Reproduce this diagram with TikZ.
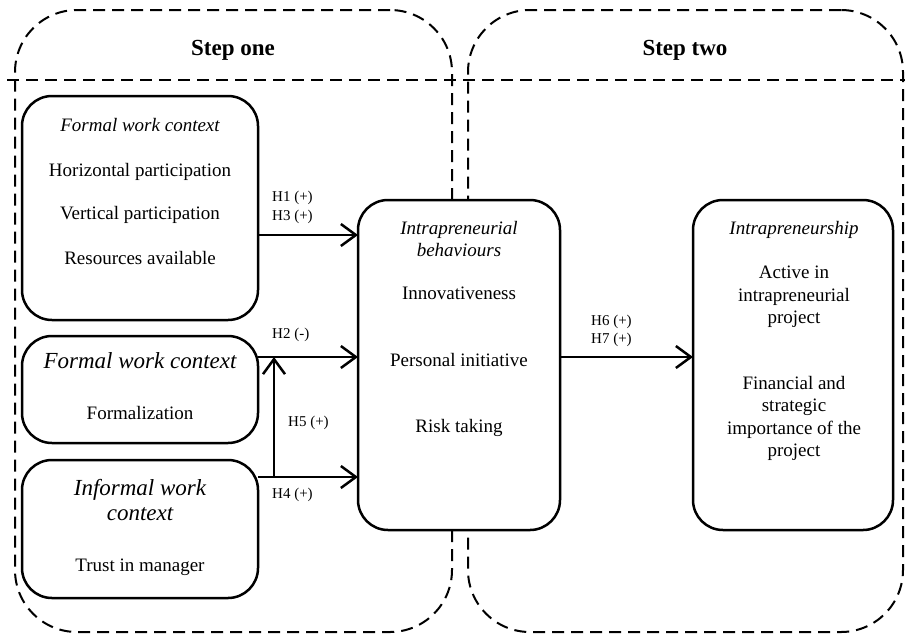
\documentclass[tikz,border=0pt]{standalone}
\usepackage{fontspec}
\setmainfont{Liberation Serif}
\usetikzlibrary{arrows.meta}
\begin{document}
\begin{tikzpicture}[x=1pt,y=-1pt,
  container/.style={draw, line width=2pt, dash pattern=on 12pt off 7pt, rounded corners=62pt, inner sep=0pt, outer sep=0pt},
  dashline/.style={draw, line width=2pt, dash pattern=on 12pt off 7pt},
  box/.style={draw, fill=white, line width=2.5pt, rounded corners=30pt, inner sep=0pt, outer sep=0pt},
  arr/.style={line width=2.5pt, -{Straight Barb[length=15pt,width=22pt]}},
  txt/.style={inner sep=0pt, font=\fontsize{19}{22}\selectfont, text height=13pt, text depth=4pt},
  itxt/.style={txt, font=\fontsize{19}{22}\selectfont\itshape},
  bigi/.style={inner sep=0pt, font=\fontsize{23}{26}\selectfont\itshape, text height=16pt, text depth=5pt},
  lab/.style={inner sep=0pt, anchor=west, font=\fontsize{15}{18}\selectfont, text height=10.5pt, text depth=3.5pt},
  steplab/.style={inner sep=0pt, font=\fontsize{23}{26}\selectfont\bfseries, text height=16pt, text depth=5pt}
]
\useasboundingbox (0,0) rectangle (905,633);

% containers
\node[container, minimum width=437pt, minimum height=622pt] (s1) at (233.5,321) {};
\node[container, minimum width=435pt, minimum height=622pt] (s2) at (685.5,321) {};
\coordinate (hl) at (7,80);
\coordinate (hr) at (905,80);
\draw[dashline] (hl) -- (hr);
\node[steplab] (s1t) at (233,50) {Step one};
\node[steplab] (s2t) at (685,50) {Step two};

% boxes
\node[box, minimum width=236pt, minimum height=224pt] (b1) at (140,208) {};
\node[box, minimum width=236pt, minimum height=107pt] (b2) at (140,389.5) {};
\node[box, minimum width=236pt, minimum height=138pt] (b3) at (140,529) {};
\node[box, minimum width=202pt, minimum height=330pt] (b4) at (459,365) {};
\node[box, minimum width=200pt, minimum height=330pt] (b5) at (793,365) {};

% box 1 text
\node[itxt] (t11) at (140,127) {Formal work context};
\node[txt] (t12) at (140,172) {Horizontal participation};
\node[txt] (t13) at (140,215) {Vertical participation};
\node[txt] (t14) at (140,260) {Resources available};

% box 2 text
\node[bigi] (t21) at (140,363) {Formal work context};
\node[txt] (t22) at (140,415) {Formalization};

% box 3 text
\node[bigi] (t31) at (140,490) {Informal work};
\node[bigi] (t32) at (140,515) {context};
\node[txt] (t33) at (140,567) {Trust in manager};

% box 4 text
\node[itxt] (t41) at (459,230) {Intrapreneurial};
\node[itxt] (t42) at (459,252) {behaviours};
\node[txt] (t43) at (459,295) {Innovativeness};
\node[txt] (t44) at (459,362) {Personal initiative};
\node[txt] (t45) at (459,428) {Risk taking};

% box 5 text
\node[itxt] (t51) at (794,230) {Intrapreneurship};
\node[txt] (t52) at (794,274) {Active in};
\node[txt] (t53) at (794,297) {intrapreneurial};
\node[txt] (t54) at (794,319) {project};
\node[txt] (t55) at (794,385) {Financial and};
\node[txt] (t56) at (794,407) {strategic};
\node[txt] (t57) at (794,430) {importance of the};
\node[txt] (t58) at (794,452) {project};

% connectors
\draw[arr] (b1.east |- 0,235) -- (b4.west |- 0,235);
\draw[arr] (b2.east |- 0,357) -- (b4.west |- 0,357);
\draw[arr] (b3.east |- 0,477) -- (b4.west |- 0,477);
\coordinate (j1) at (274,477);
\coordinate (j2) at (274,357);
\draw[arr] (j1) -- (j2);
\draw[arr] (b4.east |- 0,357) -- (b5.west |- 0,357);

% labels
\node[lab] (h1) at (272,198) {H1 (+)};
\node[lab] (h3) at (272,217) {H3 (+)};
\node[lab] (h2) at (272,335) {H2 (-)};
\node[lab] (h5) at (288,423) {H5 (+)};
\node[lab] (h4) at (272,495) {H4 (+)};
\node[lab] (h6) at (591,322) {H6 (+)};
\node[lab] (h7) at (591,340) {H7 (+)};
\end{tikzpicture}
\end{document}
